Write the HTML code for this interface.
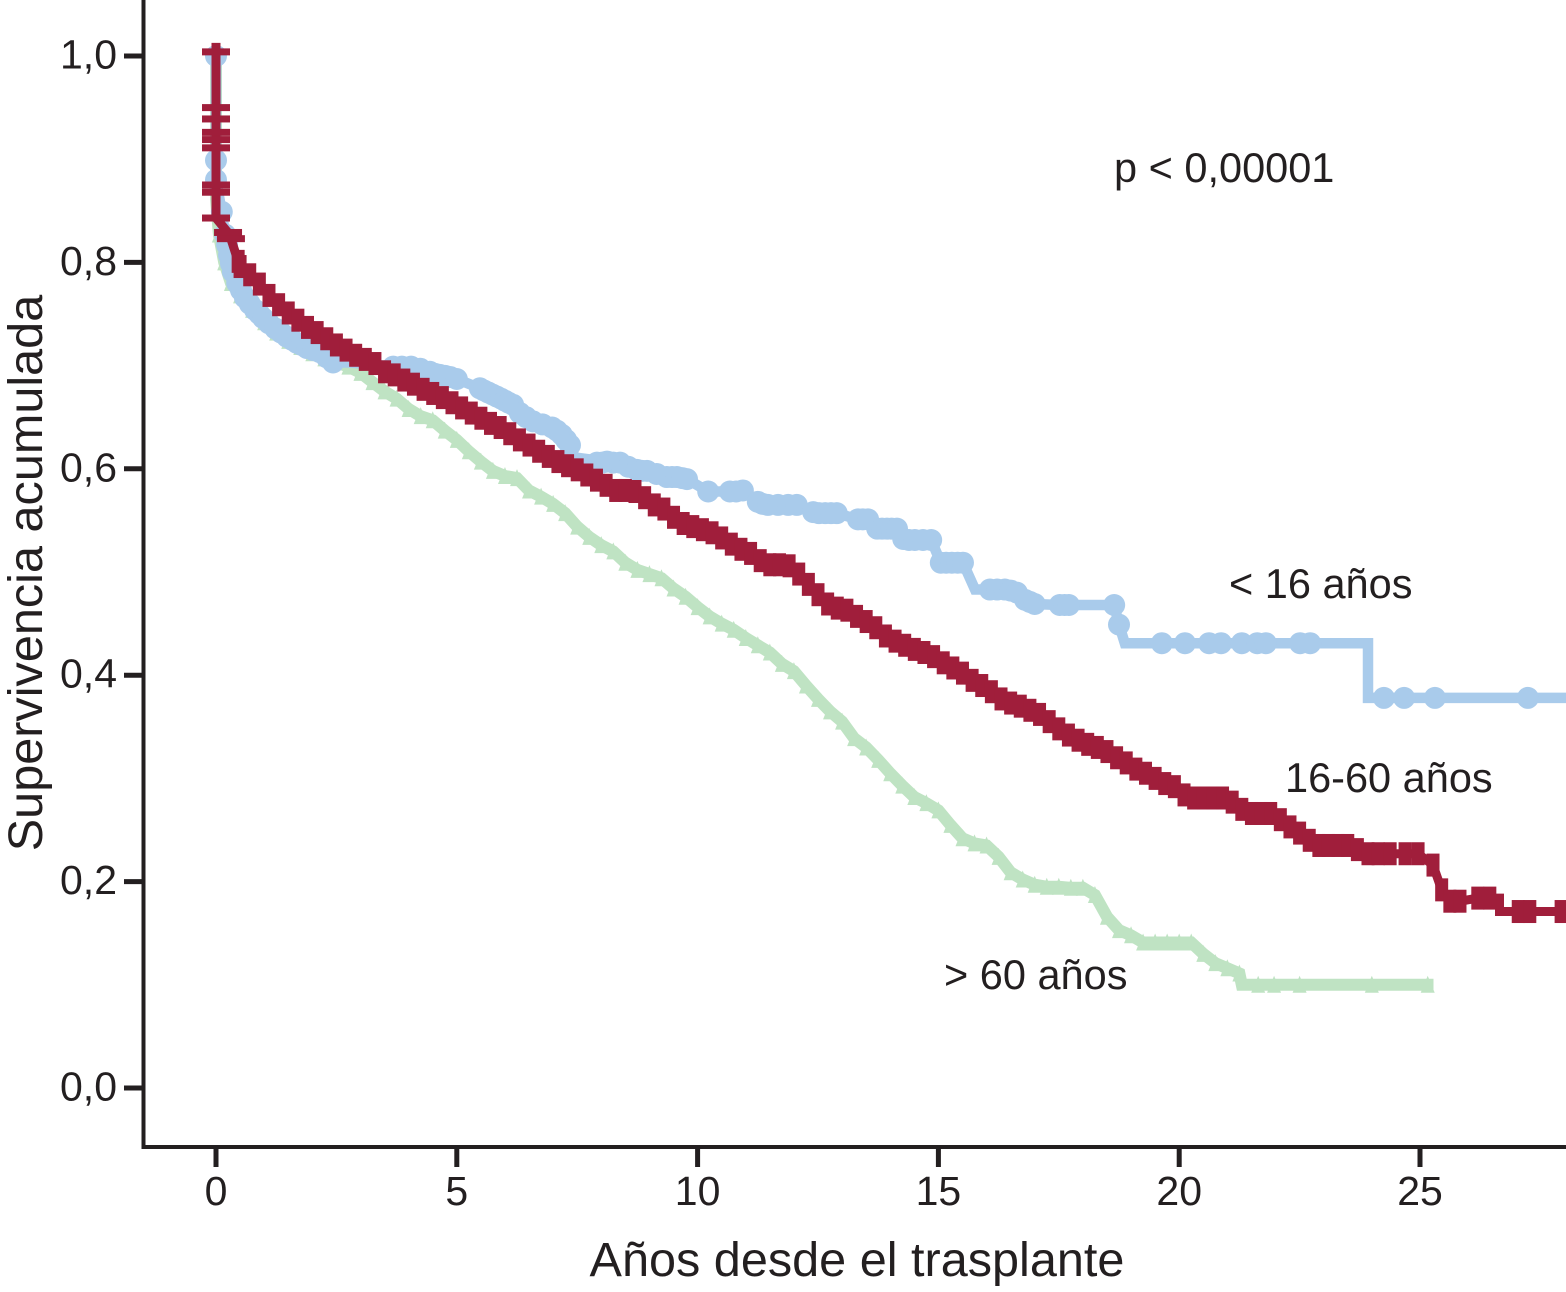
<!DOCTYPE html>
<html lang="es">
<head>
<meta charset="utf-8">
<title>Supervivencia acumulada</title>
<style>
html,body{margin:0;padding:0;background:#fff;}
svg{display:block;}
text{font-family:"Liberation Sans",Arial,sans-serif;fill:#231f20;}
</style>
</head>
<body>
<svg id="chart" xmlns="http://www.w3.org/2000/svg" width="1566" height="1292" viewBox="0 0 1566 1292">
<rect x="0" y="0" width="1566" height="1292" fill="#ffffff"/>
<g id="series"></g>
<g id="axes">
<line x1="143.5" y1="0" x2="143.5" y2="1149" stroke="#231f20" stroke-width="4"/>
<line x1="141.5" y1="1147" x2="1566" y2="1147" stroke="#231f20" stroke-width="4"/>
</g>
<text transform="translate(42,573) rotate(-90)" text-anchor="middle" font-size="48.6">Supervivencia acumulada</text>
<text x="857" y="1276" text-anchor="middle" font-size="48.6">Años desde el trasplante</text>
<text x="1114" y="182" font-size="41.5">p &lt; 0,00001</text>
<text x="1229" y="598" font-size="41.5">&lt; 16 años</text>
<text x="1285" y="792" font-size="41.5">16-60 años</text>
<text x="944" y="989" font-size="41.5">&gt; 60 años</text>
</svg>
<script>
var yTicks = [0, 0.2, 0.4, 0.6, 0.8, 1.0];
var yTickLabels = ["0,0", "0,2", "0,4", "0,6", "0,8", "1,0"];
var xTicks = [0, 5, 10, 15, 20, 25];
var xTickLabels = ["0", "5", "10", "15", "20", "25"];

var greenT = [0,0,.06,.17,.31,.5,.75,1,1.25,1.5,1.75,2,2.25,2.5,2.75,3,3.25,3.5,3.75,4,4.25,4.5,4.75,5,5.25,5.5,5.75,6,6.25,6.5,6.75,7,7.25,7.5,7.75,8,8.25,8.5,8.75,9,9.25,9.5,9.75,10,10.25,10.5,10.75,11,11.25,11.5,11.75,12,12.25,12.5,12.75,13,13.25,13.5,13.75,14,14.25,14.5,14.75,15,15.25,15.5,15.75,16,16.25,16.5,16.75,17,17.25,17.5,17.75,18,18.25,18.5,18.75,19,19.25,19.5,19.75,20,20.25,20.5,20.75,21,21.25,21.3,21.64,21.97,22.5,24,25.16,25.28];
var greenS = [1,.861,.827,.8,.78,.768,.754,.742,.732,.724,.718,.712,.707,.703,.699,.693,.684,.675,.668,.658,.651,.647,.637,.628,.617,.607,.598,.593,.591,.579,.573,.566,.557,.544,.534,.526,.52,.509,.502,.498,.494,.484,.476,.466,.457,.45,.444,.436,.429,.422,.411,.404,.39,.377,.365,.355,.339,.33,.318,.305,.293,.282,.276,.269,.255,.242,.237,.235,.224,.209,.202,.197,.195,.195,.194,.194,.187,.166,.153,.148,.141,.141,.141,.141,.141,.13,.121,.116,.111,.1,.1,.1,.1,.1,.1,.1];
var greenUncensored = [0, 21.3, 25.28];

var blueT = [0,0,0,.12,.19,.23,.27,.31,.35,.44,.52,.6,.7,.81,.9,.98,1.1,1.23,1.35,1.47,1.58,1.68,1.78,1.89,2.02,2.16,2.3,2.43,2.78,3.3,3.68,3.86,4.05,4.24,4.44,4.55,4.65,4.76,4.86,5,5.48,5.56,5.65,5.74,5.83,5.92,6,6.08,6.17,6.31,6.44,6.58,6.78,6.98,7.08,7.18,7.27,7.35,7.45,7.77,7.91,8.02,8.12,8.25,8.39,8.56,8.74,8.85,8.95,9.15,9.36,9.47,9.57,9.68,9.78,10.22,10.67,10.8,10.94,11.25,11.35,11.46,11.67,11.88,12.06,12.4,12.52,12.65,12.77,12.89,13.33,13.43,13.54,13.73,13.83,13.93,14.03,14.14,14.27,14.39,14.51,14.68,14.85,15.05,15.16,15.28,15.4,15.51,15.76,16.07,16.22,16.38,16.5,16.63,16.8,16.9,17,17.52,17.62,17.71,18.65,18.75,18.87,19.64,20.12,20.62,20.87,21.3,21.62,21.8,22.51,22.72,23.92,23.921,24.25,24.67,25.31,27.24,28.1];
var blueS = [1,.899,.88,.849,.827,.817,.807,.799,.791,.78,.773,.766,.76,.754,.75,.746,.741,.736,.732,.728,.725,.722,.72,.717,.715,.713,.708,.703,.703,.701,.699,.699,.699,.697,.694,.692,.691,.69,.689,.687,.678,.676,.674,.672,.67,.668,.666,.664,.662,.654,.65,.646,.643,.64,.637,.633,.628,.623,.611,.609,.606,.606,.607,.606,.606,.602,.599,.598,.598,.595,.592,.592,.592,.591,.59,.578,.578,.578,.579,.568,.566,.565,.565,.565,.565,.558,.557,.557,.557,.557,.551,.551,.551,.542,.542,.542,.542,.542,.532,.531,.531,.531,.531,.509,.509,.509,.509,.509,.483,.483,.483,.483,.482,.48,.473,.471,.469,.468,.468,.468,.468,.449,.431,.431,.431,.431,.431,.431,.431,.431,.431,.431,.431,.378,.378,.378,.378,.378,.378];
var blueUncensored = [2.78, 3.3, 7.45, 7.77, 15.76, 18.87, 23.92, 23.921, 28.1];

var redEarlyT = [0,0,0,0,0,0,0,0,0,.25,.31];
var redEarlyS = [1.004,.95,.939,.926,.919,.911,.875,.868,.843,.829,.823];

var redT = [.46,.5,.7,.9,1.1,1.3,1.5,1.7,1.9,2.1,2.3,2.5,2.7,2.9,3.1,3.3,3.5,3.7,3.9,4.1,4.3,4.5,4.7,4.9,5.1,5.3,5.5,5.7,5.9,6.1,6.3,6.5,6.7,6.9,7.1,7.3,7.5,7.7,7.9,8.1,8.3,8.5,8.7,8.9,9.1,9.3,9.5,9.7,9.9,10.1,10.3,10.5,10.7,10.9,11.1,11.3,11.5,11.7,11.9,12.1,12.3,12.5,12.7,12.9,13.1,13.3,13.5,13.7,13.9,14.1,14.3,14.5,14.7,14.9,15.1,15.3,15.5,15.7,15.9,16.1,16.3,16.5,16.7,16.9,17.1,17.3,17.5,17.7,17.9,18.1,18.3,18.5,18.7,18.9,19.1,19.3,19.5,19.7,19.9,20.1,20.3,20.5,20.7,20.9,21.1,21.3,21.5,21.7,21.9,22.1,22.3,22.5,22.7,22.9,23.1,23.3,23.5,23.7,23.92,24.13,24.38,24.69,24.96,25.27,25.45,25.62,25.83,26.2,26.45,26.65,26.651,27.04,27.28,27.93,28.1];
var redS = [.801,.796,.788,.779,.768,.759,.751,.744,.737,.732,.726,.72,.715,.71,.706,.702,.694,.691,.686,.682,.677,.673,.669,.664,.659,.654,.649,.644,.64,.634,.628,.623,.617,.612,.607,.603,.599,.594,.589,.584,.579,.579,.578,.572,.565,.561,.553,.547,.544,.541,.538,.533,.527,.522,.518,.511,.507,.507,.506,.498,.488,.478,.469,.465,.463,.457,.452,.446,.438,.433,.429,.425,.422,.418,.412,.407,.402,.395,.39,.384,.377,.373,.37,.366,.362,.355,.348,.342,.337,.333,.33,.326,.32,.315,.309,.305,.3,.295,.292,.284,.281,.281,.281,.281,.277,.27,.266,.266,.266,.26,.253,.247,.24,.235,.235,.235,.235,.231,.227,.227,.227,.227,.227,.216,.192,.181,.181,.184,.184,.184,.171,.171,.171,.171,.171];
var redUncensored = [26.65, 26.651, 28.1];

var svgNS = "http://www.w3.org/2000/svg";
function xScale(t) { return 216 + 48.16 * t; }
function yScale(v) { return 1088 - 1032 * v; }
function make(tag, attrs, parent) {
  var el = document.createElementNS(svgNS, tag);
  for (var k in attrs) { el.setAttribute(k, attrs[k]); }
  parent.appendChild(el);
  return el;
}
function pathFrom(ts, vs) {
  var d = "";
  for (var i = 0; i < ts.length; i++) {
    d += (i ? "L" : "M") + xScale(ts[i]).toFixed(1) + " " + yScale(vs[i]).toFixed(1);
  }
  return d;
}
var axes = document.getElementById("axes");
var series = document.getElementById("series");

yTicks.forEach(function (v, i) {
  var y = yScale(v);
  var tick = make("line", {x1: 124, y1: y, x2: 143, y2: y, stroke: "#231f20", "stroke-width": 5}, axes);
  
  
  var lab = make("text", {x: 117, y: y + 12.5, "text-anchor": "end", "font-size": 41}, axes);
  lab.textContent = yTickLabels[i];
  
  
});
xTicks.forEach(function (t, i) {
  var x = xScale(t);
  var tick = make("line", {x1: x, y1: 1147, x2: x, y2: 1167, stroke: "#231f20", "stroke-width": 5}, axes);
  
  
  var lab = make("text", {x: x, y: 1205, "text-anchor": "middle", "font-size": 41}, axes);
  lab.textContent = xTickLabels[i];
  
  
});

// Over-60 series
var gGreen = make("g", {fill: "#bfe3c3"}, series);


var greenLine = make("path", {d: pathFrom(greenT, greenS), fill: "none", stroke: "#bfe3c3", "stroke-width": 12, "stroke-linejoin": "miter"}, gGreen);


greenT.forEach(function (t, i) {
  if (greenUncensored.indexOf(t) >= 0) return;
  var x = xScale(t), y = yScale(greenS[i]);
  var tri = make("polygon", {points: (x - 7) + "," + (y + 8) + " " + (x + 7) + "," + (y + 8) + " " + x + "," + (y - 9)}, gGreen);
  
  
});

// Under-16 series
var gBlue = make("g", {fill: "#a9cbeb"}, series);


var blueLine = make("path", {d: pathFrom(blueT, blueS), fill: "none", stroke: "#a9cbeb", "stroke-width": 10.5, "stroke-linejoin": "miter"}, gBlue);


blueT.forEach(function (t, i) {
  if (blueUncensored.indexOf(t) >= 0) return;
  var c = make("circle", {cx: xScale(t), cy: yScale(blueS[i]), r: 11}, gBlue);
  
  
});

// 16-60 series
var gRed = make("g", {fill: "#a01e3b"}, series);


var redLine = make("path", {d: pathFrom(redEarlyT.concat(redT), redEarlyS.concat(redS)), fill: "none", stroke: "#a01e3b", "stroke-width": 9, "stroke-linejoin": "miter"}, gRed);


var capTop = make("rect", {x: xScale(redEarlyT[0]) - 4.5, y: yScale(redEarlyS[0]) - 9, width: 9, height: 12}, gRed);


redEarlyT.forEach(function (t, i) {
  var bar = make("rect", {x: xScale(t) - 14, y: yScale(redEarlyS[i]) - 3.5, width: 28, height: 7}, gRed);
  
  
});
redT.forEach(function (t, i) {
  if (redUncensored.indexOf(t) >= 0) return;
  var m = make("rect", {x: xScale(t) - 6.5, y: yScale(redS[i]) - 11.5, width: 13, height: 23}, gRed);
  
  
});
</script>
</body>
</html>
